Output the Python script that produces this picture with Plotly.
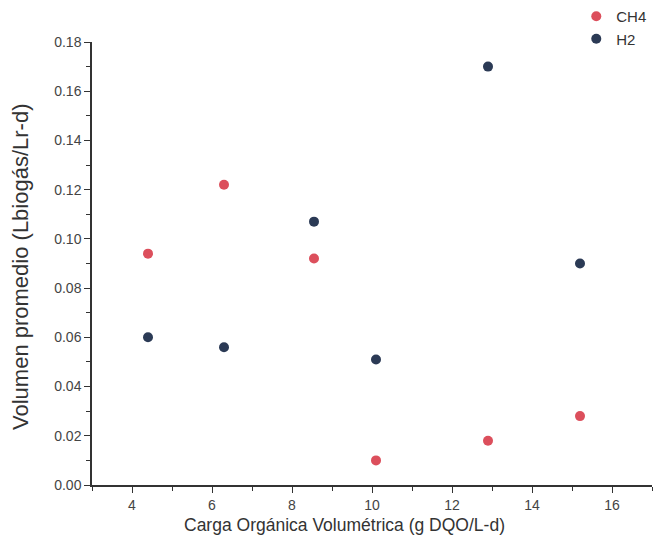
import plotly.graph_objects as go

x_vals = [4.4, 6.3, 8.55, 10.1, 12.9, 15.2]
ch4 = [0.094, 0.122, 0.092, 0.010, 0.018, 0.028]
h2 = [0.060, 0.056, 0.107, 0.051, 0.170, 0.090]

x_title = "Carga Orgánica Volumétrica (g DQO/L-d)"
y_title = "Volumen promedio (Lbiogás/Lr-d)"

red = "#dc4f5c"
navy = "#2b3a55"

W, H = 669, 555
L, R, T, B = 92, 17, 42, 70
pw, ph = W - L - R, H - T - B

fig = go.Figure()
fig.add_trace(go.Scatter(x=x_vals, y=ch4, mode="markers", name="CH4",
                         marker=dict(color=red, size=10, line=dict(width=0))))
fig.add_trace(go.Scatter(x=x_vals, y=h2, mode="markers", name="H2",
                         marker=dict(color=navy, size=10, line=dict(width=0))))

axis_common = dict(showline=True, linecolor="#333", linewidth=1.5, showgrid=False,
                   zeroline=False, ticks="outside", ticklen=6, tickwidth=1.2,
                   tickcolor="#333", mirror=False,
                   tickfont=dict(family="Liberation Sans, Arial", size=14, color="#444"))

fig.update_layout(
    width=W, height=H,
    margin=dict(l=L, r=R, t=T, b=B, autoexpand=False),
    plot_bgcolor="white", paper_bgcolor="white",
    font=dict(family="Liberation Sans, Arial", color="#333"),
    legend=dict(xref="container", yref="container", x=0.975, y=1.0,
                xanchor="right", yanchor="top",
                font=dict(size=15, color="#333"), bgcolor="rgba(0,0,0,0)",
                itemwidth=30, tracegroupgap=0),
    xaxis=dict(range=[3, 17], tickvals=[4, 6, 8, 10, 12, 14, 16],
               minor=dict(tickvals=[3, 5, 7, 9, 11, 13, 15, 17], ticks="outside",
                          ticklen=4, tickcolor="#333", tickwidth=1),
               **axis_common),
    yaxis=dict(range=[0, 0.18], tickvals=[0, 0.02, 0.04, 0.06, 0.08, 0.10, 0.12, 0.14, 0.16, 0.18],
               tickformat=".2f",
               minor=dict(tickvals=[0.01, 0.03, 0.05, 0.07, 0.09, 0.11, 0.13, 0.15, 0.17],
                          ticks="outside", ticklen=4, tickcolor="#333", tickwidth=1),
               **axis_common),
)

fig.add_annotation(text=x_title, xref="paper", yref="paper",
                   x=(344 - L) / pw, y=-(525 - (T + ph)) / ph,
                   xanchor="center", yanchor="middle", showarrow=False,
                   font=dict(size=17.5, color="#333"))
fig.add_annotation(text=y_title, xref="paper", yref="paper", textangle=-90,
                   x=(20 - L) / pw, y=1 - (267 - T) / ph,
                   xanchor="center", yanchor="middle", showarrow=False,
                   font=dict(size=22, color="#333"))

fig.write_html("out.html")
